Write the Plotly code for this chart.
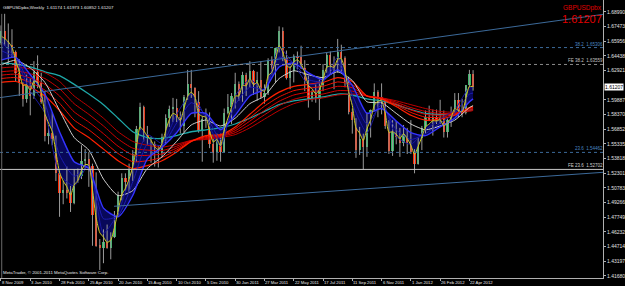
import plotly.graph_objects as go

# ---------------- data ----------------
week_idx = list(range(130))  # week 0 = 8 Nov 2009
opens = [1.6580,1.6700,1.6600,1.6560,1.6480,1.6270,1.6160,1.6000,1.6150,1.6030,
         1.6280,1.6160,1.5970,1.5620,1.5650,1.5580,1.5230,1.5030,1.5060,1.5030,
         1.4920,1.5220,1.5200,1.5360,1.5380,1.5310,1.4800,1.4480,1.4460,1.4520,
         1.4460,1.4570,1.4800,1.5010,1.5180,1.5140,1.5260,1.5430,1.5690,1.5920,
         1.5630,1.5560,1.5530,1.5440,1.5440,1.5610,1.5800,1.5900,1.5910,1.5810,
         1.5720,1.6020,1.6150,1.6110,1.5970,1.5670,1.5790,1.5800,1.5530,1.5440,
         1.5600,1.5450,1.5850,1.5920,1.6030,1.6150,1.6030,1.6250,1.6130,1.6290,
         1.6080,1.6200,1.6020,1.6060,1.6400,1.6310,1.6530,1.6700,1.6420,1.6220,
         1.6290,1.6440,1.6430,1.6320,1.6190,1.6000,1.6070,1.6000,1.6140,1.6300,
         1.6450,1.6350,1.6310,1.6490,1.6420,1.6170,1.5860,1.5780,1.5470,1.5590,
         1.5500,1.5810,1.5880,1.6070,1.6020,1.5990,1.5720,1.5460,1.5670,1.5610,
         1.5540,1.5690,1.5540,1.5450,1.5330,1.5600,1.5700,1.5810,1.5770,1.5810,
         1.5760,1.5800,1.5660,1.5780,1.5860,1.5990,1.5860,1.5850,1.6140,1.6260]
highs = [1.6760,1.6880,1.6780,1.6720,1.6500,1.6410,1.6170,1.6250,1.6210,1.6390,
         1.6450,1.6270,1.6080,1.5730,1.5860,1.5620,1.5260,1.5150,1.5300,1.5100,
         1.5270,1.5280,1.5520,1.5480,1.5450,1.5330,1.5240,1.4550,1.4650,1.4700,
         1.4620,1.4840,1.5040,1.5230,1.5230,1.5330,1.5470,1.5720,1.5960,1.5930,
         1.5720,1.5610,1.5560,1.5520,1.5640,1.5840,1.5930,1.6010,1.6000,1.5870,
         1.6040,1.6300,1.6300,1.6120,1.6080,1.5820,1.5900,1.5860,1.5590,1.5640,
         1.5640,1.5900,1.6050,1.6060,1.6270,1.6180,1.6280,1.6270,1.6390,1.6300,
         1.6280,1.6390,1.6150,1.6420,1.6440,1.6530,1.6750,1.6740,1.6500,1.6340,
         1.6460,1.6490,1.6550,1.6400,1.6240,1.6090,1.6150,1.6200,1.6360,1.6480,
         1.6490,1.6440,1.6620,1.6560,1.6440,1.6230,1.5900,1.5800,1.5710,1.5640,
         1.5860,1.5890,1.6160,1.6090,1.6160,1.6000,1.5780,1.5780,1.5770,1.5700,
         1.5730,1.5700,1.5780,1.5480,1.5600,1.5720,1.5880,1.5930,1.5890,1.5890,
         1.5990,1.5880,1.5800,1.5920,1.6060,1.6060,1.6000,1.6140,1.6300,1.6297]
lows = [1.6560,1.6550,1.6360,1.6430,1.6180,1.6030,1.5920,1.5960,1.5830,1.6000,
        1.6110,1.5950,1.5560,1.5530,1.5520,1.5150,1.4780,1.4910,1.4970,1.4830,
        1.4910,1.5130,1.5170,1.5270,1.5090,1.4480,1.4470,1.4230,1.4300,1.4450,
        1.4340,1.4560,1.4780,1.4950,1.5050,1.5030,1.5150,1.5350,1.5680,1.5560,
        1.5520,1.5340,1.5300,1.5290,1.5400,1.5530,1.5710,1.5760,1.5760,1.5640,
        1.5650,1.5990,1.6010,1.5810,1.5650,1.5350,1.5700,1.5490,1.5340,1.5360,
        1.5350,1.5440,1.5840,1.5740,1.5900,1.5980,1.5970,1.6030,1.6120,1.6040,
        1.5980,1.6000,1.5950,1.6040,1.6250,1.6170,1.6480,1.6390,1.6200,1.6100,
        1.6170,1.6310,1.6310,1.6080,1.5910,1.5970,1.5960,1.5780,1.6080,1.6270,
        1.6260,1.6100,1.6270,1.6280,1.6120,1.5840,1.5640,1.5390,1.5420,1.5270,
        1.5400,1.5600,1.5870,1.5810,1.5840,1.5690,1.5430,1.5410,1.5530,1.5400,
        1.5510,1.5430,1.5430,1.5230,1.5320,1.5470,1.5640,1.5770,1.5620,1.5740,
        1.5740,1.5600,1.5600,1.5710,1.5850,1.5810,1.5810,1.5840,1.6120,1.6085]
closes = [1.6700,1.6600,1.6560,1.6480,1.6270,1.6160,1.6000,1.6150,1.6030,1.6280,
          1.6160,1.5970,1.5620,1.5650,1.5580,1.5230,1.5030,1.5060,1.5030,1.4920,
          1.5220,1.5200,1.5360,1.5380,1.5310,1.4800,1.4480,1.4460,1.4520,1.4460,
          1.4570,1.4800,1.5010,1.5180,1.5140,1.5260,1.5430,1.5690,1.5920,1.5630,
          1.5560,1.5530,1.5440,1.5440,1.5610,1.5800,1.5900,1.5910,1.5810,1.5720,
          1.6020,1.6150,1.6110,1.5970,1.5670,1.5790,1.5800,1.5530,1.5440,1.5600,
          1.5450,1.5850,1.5920,1.6030,1.6150,1.6030,1.6250,1.6130,1.6290,1.6080,
          1.6200,1.6020,1.6060,1.6400,1.6310,1.6530,1.6700,1.6420,1.6220,1.6290,
          1.6440,1.6430,1.6320,1.6190,1.6000,1.6070,1.6000,1.6140,1.6300,1.6450,
          1.6350,1.6310,1.6490,1.6420,1.6170,1.5860,1.5780,1.5470,1.5590,1.5500,
          1.5810,1.5880,1.6070,1.6020,1.5990,1.5720,1.5460,1.5670,1.5610,1.5540,
          1.5690,1.5540,1.5450,1.5330,1.5600,1.5700,1.5810,1.5770,1.5810,1.5760,
          1.5800,1.5660,1.5780,1.5860,1.5990,1.5860,1.5850,1.6140,1.6260,1.6121]

# fast yellow average, one value per week
ma_yellow = [1.6650,1.6625,1.6590,1.6535,1.6400,1.6280,1.6140,1.6145,1.6090,1.6185,
             1.6170,1.6070,1.5845,1.5750,1.5665,1.5450,1.5240,1.5150,1.5090,1.5005,
             1.5110,1.5155,1.5260,1.5320,1.5315,1.5060,1.4770,1.4615,1.4570,1.4515,
             1.4540,1.4670,1.4840,1.5010,1.5075,1.5170,1.5300,1.5495,1.5710,1.5670,
             1.5615,1.5570,1.5505,1.5475,1.5540,1.5670,1.5785,1.5850,1.5830,1.5775,
             1.5900,1.6025,1.6070,1.6020,1.5845,1.5820,1.5810,1.5670,1.5555,1.5580,
             1.5515,1.5680,1.5800,1.5915,1.6030,1.6030,1.6140,1.6135,1.6210,1.6145,
             1.6170,1.6095,1.6080,1.6240,1.6275,1.6400,1.6550,1.6485,1.6350,1.6320,
             1.6380,1.6405,1.6360,1.6275,1.6140,1.6105,1.6050,1.6095,1.6200,1.6325,
             1.6340,1.6325,1.6410,1.6415,1.6290,1.6075,1.5930,1.5700,1.5645,1.5570,
             1.5690,1.5785,1.5930,1.5975,1.5980,1.5850,1.5655,1.5660,1.5635,1.5590,
             1.5640,1.5590,1.5520,1.5425,1.5510,1.5605,1.5710,1.5740,1.5775,1.5770,
             1.5785,1.5720,1.5750,1.5805,1.5900,1.5880,1.5865,1.6000,1.6130,1.6125]

# slower averages, read every 4 weeks
ma_idx = [0,4,8,12,16,20,24,28,32,36,40,44,48,52,56,60,64,68,72,76,80,84,88,92,
          96,100,104,108,112,116,120,124,128,129]
ma_blue1 = [1.660,1.641,1.608,1.585,1.522,1.510,1.532,1.461,1.482,1.528,1.563,1.554,
            1.584,1.605,1.580,1.551,1.603,1.620,1.609,1.653,1.636,1.615,1.618,1.643,
            1.595,1.565,1.598,1.561,1.553,1.568,1.579,1.589,1.612,1.612]
ma_blue2 = [1.650,1.642,1.615,1.595,1.542,1.520,1.530,1.476,1.479,1.514,1.553,1.552,
            1.575,1.596,1.583,1.558,1.594,1.612,1.610,1.643,1.637,1.620,1.618,1.637,
            1.604,1.574,1.594,1.568,1.558,1.564,1.575,1.585,1.605,1.606]
ma_blue = [1.640,1.643,1.625,1.605,1.566,1.535,1.528,1.487,1.478,1.500,1.538,1.550,
           1.565,1.585,1.585,1.568,1.583,1.603,1.610,1.633,1.637,1.627,1.620,1.630,
           1.614,1.585,1.590,1.577,1.565,1.562,1.571,1.580,1.597,1.600]
ma_white = [1.635,1.640,1.632,1.617,1.588,1.560,1.547,1.517,1.500,1.505,1.528,1.540,
            1.556,1.573,1.578,1.572,1.580,1.595,1.603,1.621,1.629,1.625,1.622,1.628,
            1.619,1.597,1.596,1.585,1.574,1.568,1.572,1.578,1.591,1.593]
ma_red1 = [1.617,1.618,1.612,1.603,1.588,1.570,1.560,1.548,1.536,1.528,1.531,1.536,
           1.545,1.556,1.562,1.563,1.571,1.584,1.597,1.607,1.613,1.615,1.617,1.622,
           1.618,1.603,1.600,1.592,1.583,1.578,1.579,1.583,1.591,1.592]
ma_red2 = [1.621,1.622,1.617,1.609,1.5955,1.578,1.568,1.556,1.5435,1.535,1.536,1.5395,
           1.547,1.556,1.561,1.562,1.569,1.5805,1.5925,1.602,1.6085,1.611,1.613,1.6175,
           1.6145,1.603,1.600,1.5935,1.586,1.581,1.581,1.584,1.590,1.591]
ma_red3 = [1.6245,1.6255,1.6215,1.615,1.603,1.5865,1.576,1.564,1.551,1.542,1.5415,1.543,
           1.549,1.5565,1.560,1.5615,1.567,1.577,1.588,1.5975,1.604,1.607,1.609,1.613,
           1.6115,1.603,1.6005,1.595,1.5885,1.584,1.583,1.5845,1.589,1.590]
ma_red4 = [1.628,1.629,1.626,1.621,1.6105,1.595,1.584,1.572,1.5585,1.549,1.547,1.5465,
           1.551,1.557,1.559,1.561,1.565,1.5735,1.5835,1.593,1.5995,1.603,1.605,1.6085,
           1.608,1.603,1.601,1.5965,1.591,1.587,1.585,1.585,1.588,1.589]
ma_red5 = [1.632,1.633,1.631,1.627,1.618,1.603,1.592,1.580,1.566,1.556,1.552,1.550,
           1.553,1.557,1.558,1.560,1.563,1.570,1.579,1.588,1.595,1.599,1.601,1.604,
           1.605,1.603,1.601,1.598,1.594,1.590,1.587,1.586,1.587,1.588]
ma_teal = [1.637,1.636,1.633,1.628,1.624,1.615,1.605,1.594,1.580,1.566,1.560,1.559,
           1.562,1.566,1.568,1.570,1.574,1.580,1.587,1.594,1.598,1.600,1.602,1.605,
           1.604,1.600,1.598,1.594,1.589,1.585,1.584,1.585,1.588,1.589]

# date axis
date_ticks = [0,8,16,24,32,40,48,56,64,72,80,88,96,104,112,120,128]
date_labels = ["8 Nov 2009","3 Jan 2010","28 Feb 2010","25 Apr 2010","20 Jun 2010",
               "15 Aug 2010","10 Oct 2010","5 Dec 2010","30 Jan 2011","27 Mar 2011",
               "22 May 2011","17 Jul 2011","11 Sep 2011","6 Nov 2011","1 Jan 2012",
               "26 Feb 2012","22 Apr 2012"]
# price axis
price_ticks = ["1.41680","1.43197","1.44714","1.46232","1.47749","1.49266","1.50783",
               "1.52301","1.53818","1.55335","1.56852","1.58370","1.59887",
               "1.62921","1.64438","1.65956","1.67473","1.68990"]
last_price = 1.61207
# fibonacci levels
fib_levels = [1.65306, 1.63559, 1.54462, 1.52702]
fib_labels = ["38.2  1.65306", "FE 38.2  1.63559", "23.6  1.54462", "FE 23.6  1.52702"]
# trend lines (week index, price)
trend_up_x = [-0.3, 164.5]
trend_up_y = [1.6013, 1.6874]
trend_lo_x = [30.9, 164.5]
trend_lo_y = [1.4889, 1.5240]

X_RANGE = [-0.27, 164.5]
Y_RANGE = [1.41470, 1.70227]
FONT = "Liberation Sans, Arial, sans-serif"

for arr in (ma_blue1, ma_blue2, ma_blue, ma_white, ma_red1, ma_red2, ma_red3,
            ma_red4, ma_red5, ma_teal):
    assert len(arr) == len(ma_idx)
for arr in (opens, highs, lows, closes, ma_yellow):
    assert len(arr) == len(week_idx)

fig = go.Figure()

# blue ribbon fill between fast and slow short-term averages
fig.add_trace(go.Scatter(
    x=week_idx + ma_idx[::-1], y=ma_yellow + ma_blue[::-1],
    fill="toself", fillcolor="#08085a", line=dict(width=0),
    mode="lines", hoverinfo="skip", showlegend=False))

# wicks
wx, wy = [], []
for i, h, l in zip(week_idx, highs, lows):
    wx += [i, i, None]
    wy += [l, h, None]
fig.add_trace(go.Scatter(x=wx, y=wy, mode="lines",
                         line=dict(color="#9a9a9a", width=1),
                         hoverinfo="skip", showlegend=False))
# bodies
body_col = ["#33b865" if c >= o else "#ff2a00" for o, c in zip(opens, closes)]
body_h = [c - o if abs(c - o) > 0.0004 else 0.0008 for o, c in zip(opens, closes)]
fig.add_trace(go.Bar(x=week_idx, base=opens, y=body_h, width=0.62,
                     marker=dict(color=body_col, line=dict(width=0)),
                     hoverinfo="skip", showlegend=False))

def line(xs, ys, color, width=1):
    fig.add_trace(go.Scatter(x=xs, y=ys, mode="lines",
                             line=dict(color=color, width=width, shape="spline", smoothing=0.6),
                             hoverinfo="skip", showlegend=False))

line(ma_idx, ma_teal, "#1fa8a8", 1.3)
line(ma_idx, ma_red5, "#c00000", 1)
line(ma_idx, ma_red4, "#d00000", 1)
line(ma_idx, ma_red3, "#e00000", 1)
line(ma_idx, ma_red2, "#f01000", 1)
line(ma_idx, ma_red1, "#ff2000", 1.2)
line(ma_idx, ma_white, "#d0d0d0", 1)
line(ma_idx, ma_blue2, "#1c1cb0", 1)
line(ma_idx, ma_blue1, "#1818a0", 1)
line(ma_idx, ma_blue, "#3434ff", 1.4)
line(week_idx, ma_yellow, "#cfcc1e", 1)

# trend lines
fig.add_trace(go.Scatter(x=trend_up_x, y=trend_up_y, mode="lines",
                         line=dict(color="#3c6a9a", width=1), hoverinfo="skip", showlegend=False))
fig.add_trace(go.Scatter(x=trend_lo_x, y=trend_lo_y, mode="lines",
                         line=dict(color="#3c6a9a", width=1), hoverinfo="skip", showlegend=False))

# fibonacci horizontal levels
fib_colors = ["#3c6a9a", "#8a8a8a", "#3c6a9a", "#c8c8c8"]
fib_text_colors = ["#4a86c0", "#c0c0c0", "#4a86c0", "#d0d0d0"]
fib_dash = ["dot", "dot", "dot", "solid"]
for lv, lab, col, tcol, dsh in zip(fib_levels, fib_labels, fib_colors, fib_text_colors, fib_dash):
    fig.add_shape(type="line", xref="paper", x0=0, x1=1, yref="y", y0=lv, y1=lv,
                  line=dict(color=col, width=1, dash=dsh))
    fig.add_annotation(xref="paper", x=1, xanchor="right", xshift=2, y=lv, yanchor="bottom",
                       yshift=-1, text=lab, showarrow=False,
                       font=dict(size=4.5, color=tcol, family=FONT))

# vertical marker line at the left
fig.add_shape(type="line", x0=0.2, x1=0.2, yref="paper", y0=0, y1=0.95,
              line=dict(color="#6a6a6a", width=1))

# texts
fig.add_annotation(xref="paper", yref="paper", x=0, y=1, xanchor="left", yanchor="top",
                   xshift=1, yshift=-3, showarrow=False,
                   text="GBPUSDpbx,Weekly  1.61174 1.61973 1.60852 1.61207",
                   font=dict(size=4.4, color="#e8e8e8", family=FONT))
fig.add_annotation(xref="paper", yref="paper", x=1, y=1, xanchor="right", yanchor="top",
                   xshift=1, yshift=-2, showarrow=False, text="GBPUSDpbx",
                   font=dict(size=6.5, color="#e00000", family=FONT))
fig.add_annotation(xref="paper", yref="paper", x=1, y=1, xanchor="right", yanchor="top",
                   xshift=1, yshift=-11, showarrow=False, text=f"{last_price:.5f}",
                   font=dict(size=11, color="#e00000", family=FONT))
fig.add_annotation(xref="paper", x=1, xanchor="left", xshift=1, y=last_price, yref="y",
                   showarrow=False, text=f"{last_price:.5f}", bgcolor="#ffffff",
                   borderpad=0, font=dict(size=5, color="#000000", family=FONT))
fig.add_annotation(xref="paper", yref="paper", x=0, y=0, xanchor="left", yanchor="bottom",
                   xshift=1, yshift=1, showarrow=False,
                   text="MetaTrader, © 2001-2011 MetaQuotes Software Corp.",
                   font=dict(size=4.4, color="#e8e8e8", family=FONT))
for t, lab in zip(date_ticks, date_labels):
    fig.add_annotation(x=t, xref="x", yref="paper", y=0, xanchor="left", yanchor="top",
                       xshift=-1, yshift=0, showarrow=False, text=lab,
                       font=dict(size=4.2, color="#e8e8e8", family=FONT))

fig.update_layout(
    width=625, height=286, margin=dict(l=0, r=17, t=0, b=8),
    paper_bgcolor="#000000", plot_bgcolor="#000000", showlegend=False,
    bargap=0,
    xaxis=dict(range=X_RANGE, showgrid=False, zeroline=False, showline=True,
               linecolor="#b0b0b0", linewidth=1, ticks="outside", ticklen=2,
               tickcolor="#b0b0b0", tickvals=date_ticks, showticklabels=False),
    yaxis=dict(range=Y_RANGE, side="right", showgrid=False, zeroline=False, showline=True,
               linecolor="#b0b0b0", linewidth=1, ticks="outside", ticklen=2,
               tickcolor="#b0b0b0", tickvals=[float(p) for p in price_ticks],
               ticktext=price_ticks,
               tickfont=dict(size=5, color="#e0e0e0", family=FONT)),
)
fig.write_html("out.html")
